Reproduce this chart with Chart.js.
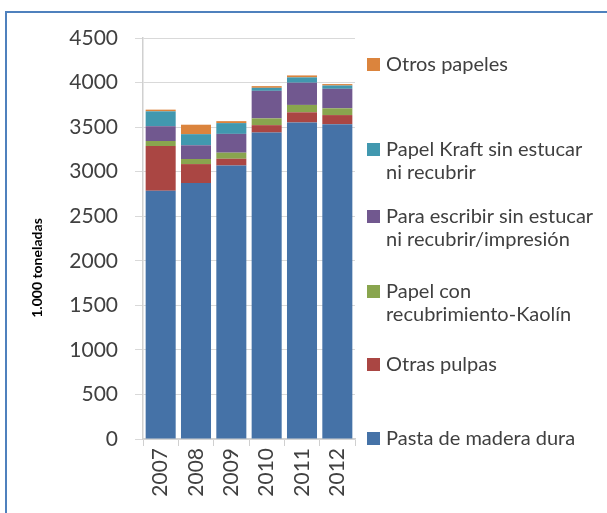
<!DOCTYPE html>
<html>
<head>
<meta charset="utf-8">
<script src="https://cdn.jsdelivr.net/npm/chart.js@4.4.0/dist/chart.umd.min.js"></script>
<style>
  html, body { margin: 0; padding: 0; background: #fff; overflow: hidden; }
  #frame { position: absolute; left: 5px; top: 11px; width: 700px; height: 600px;
           border-left: 2px solid #4F81BD; border-top: 2px solid #4F81BD; pointer-events: none; }
  #box { position: absolute; left: 0; top: 0; width: 607px; height: 513px; }
</style>
</head>
<body>
<div id="box"><canvas id="myChart"></canvas></div>
<div id="frame"></div>

<script>
// categories and series (1.000 toneladas)
var years = ['2007', '2008', '2009', '2010', '2011', '2012'];
var pastaMadera  = [2786, 2873, 3069, 3439, 3552, 3533];
var otrasPulpas  = [502, 212, 76, 83, 114, 102];
var papelKaolin  = [56, 57, 68, 76, 83, 76];
var paraEscribir = [166, 154, 211, 309, 249, 219];
var papelKraft   = [167, 125, 121, 34, 60, 37];
var otrosPapeles = [19, 106, 22, 19, 22, 16];

// y axis ticks
var yMin = 0, yMax = 4500, yStep = 500;

var textColor = '#404040';
var fontFam = 'Lato, "Open Sans", sans-serif';

// legend is drawn by hand because labels wrap on two lines
// first-line y of each entry, top to bottom (last dataset first)
var legendPlugin = {
  id: 'sideLegend',
  afterDraw: function(chart) {
    var ctx = chart.ctx;
    var ys = [65, 150, 217, 292, 365, 439];
    var ds = chart.data.datasets.slice().reverse();
    ctx.save();
    ctx.font = '20px ' + fontFam;
    ctx.textBaseline = 'middle';
    ctx.fillStyle = textColor;
    for (var i = 0; i < ds.length; i++) {
      var lines = [].concat(ds[i].legendText);
      ctx.fillStyle = ds[i].backgroundColor;
      ctx.fillRect(367, ys[i] - 7, 13, 13);
      ctx.fillStyle = textColor;
      for (var j = 0; j < lines.length; j++) {
        ctx.fillText(lines[j], 386, ys[i] + j * 22.5);
      }
    }
    // y axis title
    ctx.translate(37, 268);
    ctx.rotate(-Math.PI / 2);
    ctx.textAlign = 'center';
    ctx.font = 'bold 14px ' + fontFam;
    ctx.fillStyle = '#000';
    ctx.fillText('1.000 toneladas', 0, 0);
    ctx.restore();
  }
};

var ctx = document.getElementById('myChart').getContext('2d');
var chart = new Chart(ctx, {
  type: 'bar',
  data: {
    labels: years,
    datasets: [
      { label: 'Pasta de madera dura', legendText: 'Pasta de madera dura', data: pastaMadera, backgroundColor: '#4572A7' },
      { label: 'Otras pulpas', legendText: 'Otras pulpas', data: otrasPulpas, backgroundColor: '#AA4643' },
      { label: 'Papel con recubrimiento-Kaolín', legendText: ['Papel con', 'recubrimiento-Kaolín'], data: papelKaolin, backgroundColor: '#89A54E' },
      { label: 'Para escribir sin estucar ni recubrir/impresión', legendText: ['Para escribir sin estucar', 'ni recubrir/impresión'], data: paraEscribir, backgroundColor: '#71588F' },
      { label: 'Papel Kraft sin estucar ni recubrir', legendText: ['Papel Kraft sin estucar', 'ni recubrir'], data: papelKraft, backgroundColor: '#4198AF' },
      { label: 'Otros papeles', legendText: 'Otros papeles', data: otrosPapeles, backgroundColor: '#DB843D' }
    ]
  },
  options: {
    responsive: true,
    maintainAspectRatio: false,
    animation: false,
    datasets: { bar: { barPercentage: 0.85, categoryPercentage: 1 } },
    layout: { padding: { left: 0, top: 38, right: 252, bottom: 14 } },
    plugins: {
      legend: { display: false },
      tooltip: { enabled: false }
    },
    scales: {
      x: {
        stacked: true,
        grid: { drawOnChartArea: false, drawTicks: true, tickLength: 7, color: '#D0D0D0', offset: true },
        border: { color: '#D0D0D0', width: 1.5 },
        ticks: { color: textColor, font: { family: fontFam, size: 21 }, minRotation: 90, maxRotation: 90, padding: 2, autoSkip: false },
        afterFit: function(scale) { scale.height = 60; }
      },
      y: {
        stacked: true,
        min: yMin,
        max: yMax,
        grid: { color: '#D9D9D9', tickLength: 8 },
        border: { color: '#D0D0D0', width: 1.5 },
        ticks: {
          stepSize: yStep, color: textColor, font: { family: fontFam, size: 21 }, padding: 17,
          // plain numbers, no thousands separator
          callback: function(v) { return String(v); }
        },
        afterFit: function(scale) { scale.width = 143; }
      }
    }
  },
  plugins: [legendPlugin]
});
</script>
</body>
</html>
